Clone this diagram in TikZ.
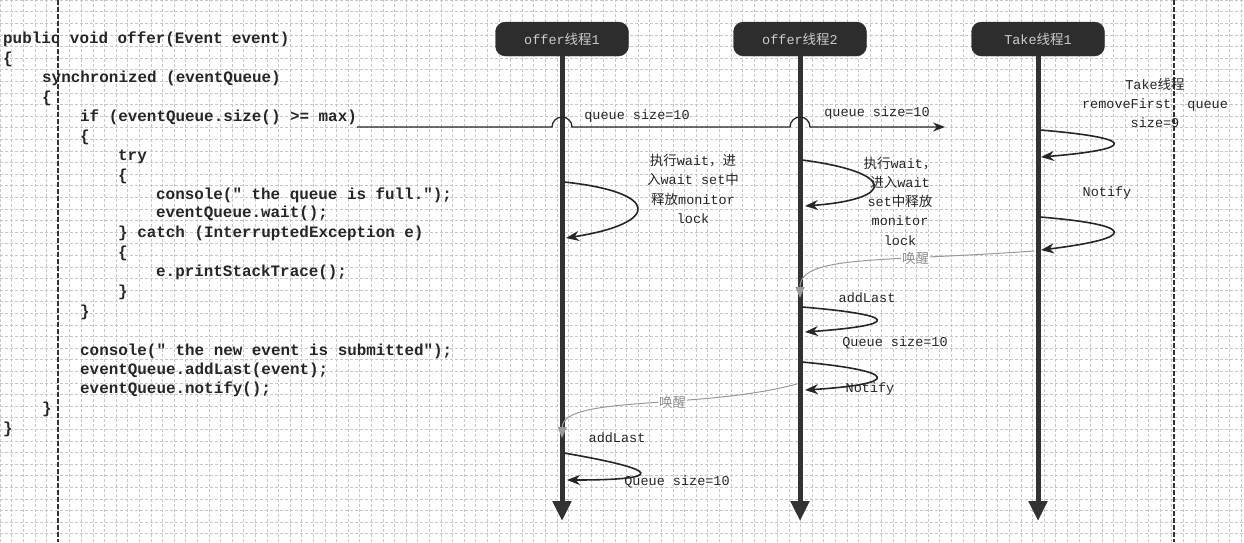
\documentclass[tikz,border=0pt]{standalone}
\usepackage{fontspec}
\setmainfont{Liberation Serif}
\newfontfamily\codefont{Liberation Mono}
\newfontfamily\zhfont{Noto Sans CJK SC}
\usetikzlibrary{arrows.meta}
\definecolor{headfill}{RGB}{45,45,45}
\definecolor{inkgray}{RGB}{50,50,50}
\newcommand\zh[1]{{\zhfont #1}}
\tikzset{
  % code lines on the left
  codeline/.style={anchor=west,inner sep=0pt,text height=11pt,text depth=3.5pt,text=black!85,font=\codefont\bfseries\fontsize{15.9}{19}\selectfont},
  % thread header
  thead/.style={rectangle,rounded corners=10pt,fill=headfill,draw=headfill,minimum width=133pt,minimum height=34pt,text=black!20,font=\codefont\fontsize{13.5}{16}\selectfont},
  % life line of a thread
  lifeline/.style={line width=5pt,draw=inkgray,-{Triangle[length=20pt,width=18pt]}},
  % call on the own life line
  selfloop/.style={line width=1.6pt,draw=black!85,-{Stealth[length=13pt,width=10pt]}},
  % notify -> wake up
  wakeup/.style={line width=1pt,draw=black!40,-{Triangle[length=11pt,width=9pt]}},
  % labels
  lab/.style={align=center,inner sep=1pt,text=black!85,font=\codefont\fontsize{13.5}{19.3}\selectfont},
  wlab/.style={inner sep=1pt,fill=white,text=black!45,font=\zhfont\fontsize{13.5}{16}\selectfont},
  % paper
  gridline/.style={draw=black!22,line width=0.4pt,dash pattern=on 3pt off 2pt},
  sheetline/.style={draw=inkgray,line width=1.6pt,dash pattern=on 5pt off 2pt}
}
\begin{document}
\begin{tikzpicture}[x=1pt,y=-1pt]
  \fill[white] (0,0) rectangle (1244,542);
  \useasboundingbox (0,0) rectangle (1244,542);
  \draw[gridline,step=11.6pt] (0,542) grid (1244,0);
  \draw[sheetline] (58,0) -- (58,542);
  \draw[sheetline] (1174,0) -- (1174,542);
  %%%%%%%%%%%%%%%%%%%%%%%%%%%%%%%%%%%%%%%
  \node[codeline] (c1) at (3,40) {public void offer(Event event)};
  \node[codeline] (c2) at (3,60) {\{};
  \node[codeline] (c3) at (42,79) {synchronized (eventQueue)};
  \node[codeline] (c4) at (42,99) {\{};
  \node[codeline] (c5) at (80,118) {if (eventQueue.size() >= max)};
  \node[codeline] (c6) at (80,138) {\{};
  \node[codeline] (c7) at (118,157) {try};
  \node[codeline] (c8) at (118,177) {\{};
  \node[codeline] (c9) at (156,196) {console(" the queue is full.");};
  \node[codeline] (c10) at (156,214) {eventQueue.wait();};
  \node[codeline] (c11) at (118,234) {\} catch (InterruptedException e)};
  \node[codeline] (c12) at (118,254) {\{};
  \node[codeline] (c13) at (156,273) {e.printStackTrace();};
  \node[codeline] (c14) at (118,293) {\}};
  \node[codeline] (c15) at (80,313) {\}};
  \node[codeline] (c16) at (80,352) {console(" the new event is submitted");};
  \node[codeline] (c17) at (80,371) {eventQueue.addLast(event);};
  \node[codeline] (c18) at (80,390) {eventQueue.notify();};
  \node[codeline] (c19) at (42,410) {\}};
  \node[codeline] (c20) at (3,430) {\}};
  %%%%%%%%%%%%%%%%%%%%%%%%%%%%%%%%%%%%%%%
  \node[thead] (off1) at (562,39) {offer\zh{线程}1};
  \node[thead] (off2) at (800,39) {offer\zh{线程}2};
  \node[thead] (take1) at (1038,39) {Take\zh{线程}1};
  \coordinate (off1end) at (562,521);
  \coordinate (off2end) at (800,521);
  \coordinate (take1end) at (1038,521);
  \draw[lifeline] (off1.south) -- (off1end);
  \draw[lifeline] (off2.south) -- (off2end);
  \draw[lifeline] (take1.south) -- (take1end);
  %%%%%%%%%%%%%%%%%%%%%%%%%%%%%%%%%%%%%%%
  \coordinate (q0) at ([yshift=-9pt]c5.east);
  \coordinate (q1) at (945,127);
  \draw[line width=1.3pt,draw=black!85,-{Stealth[length=12pt,width=9pt]}] (q0) -- (552,127)
    arc[start angle=180,end angle=0,radius=10pt] -- (790,127)
    arc[start angle=180,end angle=0,radius=10pt] -- (q1);
  \node[lab] (qs1) at (637,116) {queue size=10};
  \node[lab] (qs2) at (877,113) {queue size=10};
  %%%%%%%%%%%%%%%%%%%%%%%%%%%%%%%%%%%%%%%
  \coordinate (t1a) at (1040,130);
  \coordinate (t1b) at (1041,157);
  \coordinate (t1c) at (1040,217);
  \coordinate (t1d) at (1041,250);
  \draw[selfloop] (t1a) .. controls +(97,8) and +(97,-8) .. (t1b);
  \draw[selfloop] (t1c) .. controls +(97,8) and +(97,-12) .. (t1d);
  \node[lab] (tl) at (1155,103) {Take\zh{线程}\\removeFirst, queue\\size=9};
  \node[lab] (tn) at (1107,193) {Notify};
  %%%%%%%%%%%%%%%%%%%%%%%%%%%%%%%%%%%%%%%
  \coordinate (o2a) at (802,160);
  \coordinate (o2b) at (805,206);
  \coordinate (o2c) at (802,307);
  \coordinate (o2d) at (805,332);
  \coordinate (o2e) at (802,362);
  \coordinate (o2f) at (805,390);
  \draw[selfloop] (o2a) .. controls +(93,12) and +(93,-7) .. (o2b);
  \draw[selfloop] (o2c) .. controls +(97,8) and +(97,-7) .. (o2d);
  \draw[selfloop] (o2e) .. controls +(97,9) and +(97,-6) .. (o2f);
  \node[lab] (o2wl) at (900,201) {\zh{执行}wait\zh{，}\\\zh{进入}wait\\set\zh{中释放}\\monitor\\lock};
  \node[lab] (o2al) at (867,298) {addLast};
  \node[lab] (o2ql) at (895,343) {Queue size=10};
  \node[lab] (o2nl) at (870,389) {Notify};
  %%%%%%%%%%%%%%%%%%%%%%%%%%%%%%%%%%%%%%%
  \coordinate (o1a) at (564,182);
  \coordinate (o1b) at (566,238);
  \coordinate (o1c) at (564,453);
  \coordinate (o1d) at (567,480);
  \draw[selfloop] (o1a) .. controls +(96,10) and +(96,-15) .. (o1b);
  \draw[selfloop] (o1c) .. controls +(99,17) and +(99,0) .. (o1d);
  \node[lab] (o1wl) at (693,189) {\zh{执行}wait\zh{，进}\\\zh{入}wait set\zh{中}\\\zh{释放}monitor\\lock};
  \node[lab] (o1al) at (617,438) {addLast};
  \node[lab] (o1ql) at (677,482) {Queue size=10};
  %%%%%%%%%%%%%%%%%%%%%%%%%%%%%%%%%%%%%%%
  \coordinate (t1w) at (1034,251);
  \coordinate (o2r) at (800,298);
  \coordinate (o2w) at (797,384);
  \coordinate (o1r) at (562,438);
  \draw[wakeup] (t1w) .. controls (880,262) and (800,255) .. (o2r) node[wlab,pos=0.3] (wk1) {唤醒};
  \draw[wakeup] (o2w) .. controls (700,410) and (563,395) .. (o1r) node[wlab,pos=0.4] (wk2) {唤醒};
\end{tikzpicture}
\end{document}
